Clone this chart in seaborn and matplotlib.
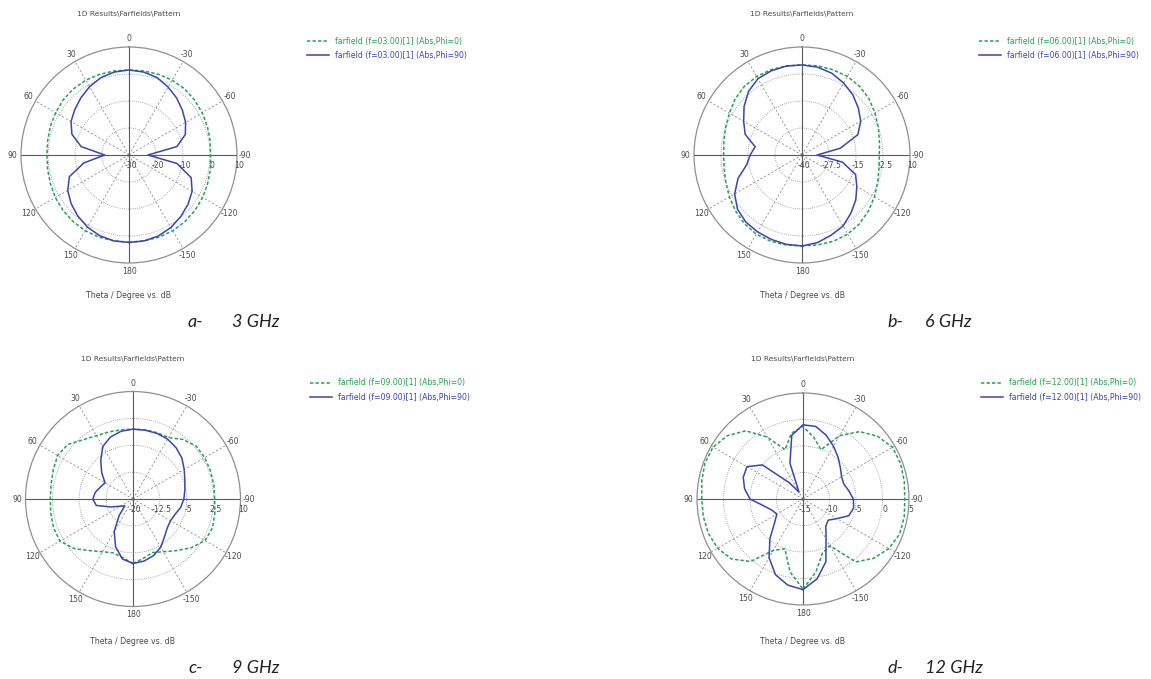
import numpy as np
import pandas as pd
import matplotlib
matplotlib.use("Agg")
import matplotlib.pyplot as plt
import seaborn as sns
from matplotlib.lines import Line2D

# theta in degrees, positive to the left (CCW from the top)
THETA_DEG = [-180, -170, -160, -150, -140, -130, -120, -110, -100, -90,
             -80, -70, -60, -50, -40, -30, -20, -10, 0,
             10, 20, 30, 40, 50, 60, 70, 80, 90,
             100, 110, 120, 130, 140, 150, 160, 170, 180]
ANGLE_TICKS = [0, 30, 60, 90, 120, 150, 180, 210, 240, 270, 300, 330]
ANGLE_LABELS = ['0', '30', '60', '90', '120', '150', '180',
                '-150', '-120', '-90', '-60', '-30']

# a - 3 GHz
A_RTICKS = [-30, -20, -10, 0, 10]
A_PHI0 = [2.3, 2.3, 2.4, 2.4, 2.2, 1.9, 1.5, 1.0, 0.6, 0.2,
          0.5, 0.9, 1.3, 1.7, 2.0, 2.0, 1.8, 1.6, 1.5,
          1.6, 1.8, 2.0, 2.0, 1.8, 1.4, 1.0, 0.6, 0.4,
          0.6, 1.0, 1.5, 1.9, 2.2, 2.4, 2.4, 2.3, 2.3]
A_PHI90 = [2.4, 2.3, 1.9, 1.0, -0.2, -1.5, -3.0, -5.5, -12, -23,
           -12, -7.8, -5.8, -4.2, -2.5, -1.0, 0.5, 1.2, 1.5,
           1.2, 0.5, -0.8, -2.3, -3.8, -5.2, -7.5, -12, -21,
           -13, -6.5, -3.8, -2.0, -0.5, 0.8, 1.8, 2.3, 2.4]

# b - 6 GHz
B_RTICKS = [-40, -27.5, -15, -2.5, 10]
B_PHI0 = [2.1, 2.3, 2.5, 2.3, 1.5, 0.2, -1.3, -2.7, -3.8, -4.2,
          -3.6, -2.4, -1.0, 0.5, 1.5, 2.0, 2.0, 1.9, 1.7,
          1.9, 2.0, 2.0, 1.5, 0.4, -1.2, -2.4, -3.3, -3.7,
          -3.4, -2.5, -1.2, 0.2, 1.5, 2.3, 2.5, 2.3, 2.1]
B_PHI90 = [2.1, 1.2, -0.5, -2.0, -4.8, -7.5, -10.7, -13.6, -21, -33,
           -22, -12.5, -8.6, -6.0, -3.5, -1.5, 0.3, 1.3, 1.7,
           1.8, 1.5, 0.8, -1.5, -5.0, -8.8, -12, -18, -16,
           -14, -8.5, -4.0, -1.0, 0.5, 1.1, 1.6, 2.0, 2.1]

# c - 9 GHz
C_RTICKS = [-20, -12.5, -5, 2.5, 10]
C_PHI0 = [-2.0, -3.2, -4.1, -3.0, -1.2, 1.2, 3.2, 3.6, 3.2, 2.8,
          2.9, 3.0, 3.1, 3.0, 1.7, -0.2, -0.3, -0.4, -0.5,
          -0.4, -0.1, 0.4, 1.6, 3.7, 4.3, 3.7, 3.2, 3.1,
          3.3, 3.6, 3.5, 1.5, -1.2, -3.0, -4.0, -3.4, -2.0]
C_PHI90 = [-2.0, -2.4, -3.2, -4.5, -6.3, -7.5, -7.9, -7.5, -6.5, -5.8,
           -5.3, -4.6, -3.5, -2.2, -1.3, -0.7, -0.5, -0.5, -0.5,
           -0.8, -1.6, -3.1, -6.0, -8.6, -11.0, -10.3, -9.3, -8.8,
           -9.6, -13.5, -16, -17, -14, -9.5, -5.8, -3.0, -2.0]

# d - 12 GHz
D_RTICKS = [-15, -10, -5, 0, 5]
D_PHI0 = [2.0, -1.0, -4.2, -4.8, 0.5, 2.4, 3.7, 4.4, 4.4, 4.2,
          4.4, 4.6, 4.5, 3.4, 1.6, -1.2, -5.1, -3.2, -1.3,
          -2.4, -5.1, -1.5, 1.8, 3.6, 4.6, 4.7, 4.4, 4.1,
          4.1, 4.0, 3.6, 2.6, 0.4, -3.8, -5.0, -1.0, 2.0]
D_PHI90 = [2.1, 0.3, -2.4, -6.3, -8.3, -8.8, -7.6, -5.8, -5.3, -5.5,
           -6.2, -6.8, -6.6, -5.8, -4.7, -3.5, -2.2, -1.1, -1.0,
           -2.8, -7.8, -13.5, -11, -5.0, -2.8, -3.0, -3.8, -5.0,
           -7.5, -8.8, -9.3, -8.0, -5.3, -2.2, 0.2, 1.5, 2.1]

FREQS = ['03.00', '06.00', '09.00', '12.00']
CAPTIONS = [('a-', '3 GHz'), ('b-', '6 GHz'), ('c-', '9 GHz'), ('d-', '12 GHz')]

GREEN = '#25a055'
BLUE = '#3a44b2'
TXT = '#4a4a4a'
DASH = (2.2, 1.4)

W, H = 1151, 679
fig = plt.figure(figsize=(W / 100, H / 100), dpi=100)


def draw_panel(cx, cy, R, rticks, phi0, phi90, freq, caption, leg_xy, cap_y, title_y, xlab_y):
    ax = fig.add_axes([(cx - R) / W, 1 - (cy + R) / H, 2 * R / W, 2 * R / H],
                      projection='polar')
    n = len(THETA_DEG)
    df = pd.DataFrame({
        'theta': np.deg2rad(THETA_DEG + THETA_DEG),
        'db': phi0 + phi90,
        'cut': ['Phi=0'] * n + ['Phi=90'] * n,
    })
    sns.lineplot(data=df, x='theta', y='db', hue='cut', style='cut',
                 palette={'Phi=0': GREEN, 'Phi=90': BLUE},
                 dashes={'Phi=0': DASH, 'Phi=90': ''},
                 sort=False, estimator=None, legend=False, linewidth=1.1,
                 ax=ax, zorder=4)
    ax.set_xlabel('')
    ax.set_ylabel('')
    ax.set_theta_zero_location('N')
    ax.set_theta_direction(1)
    ax.set_ylim(rticks[0], rticks[-1])
    ax.set_yticks(rticks[1:-1])
    ax.set_yticklabels([])
    ax.set_xticks(np.deg2rad(ANGLE_TICKS))
    ax.set_xticklabels(ANGLE_LABELS)
    ax.tick_params(axis='x', pad=-4.5, labelsize=5.6, labelcolor=TXT)
    ax.set_axisbelow(True)
    ax.xaxis.grid(True, color='#8a8a8a', lw=0.6, ls=(0, (2.5, 2.5)))
    ax.yaxis.grid(True, color='#8a8a8a', lw=0.6, ls=(0, (1, 1.6)))
    ax.spines['polar'].set_color('#8f8f8f')
    ax.spines['polar'].set_linewidth(0.9)
    for a in (0, 90, 180, 270):
        ax.axvline(np.deg2rad(a), color='#5a5a5a', lw=0.8, zorder=2)
    for v in rticks:
        ax.annotate(f'{v:g}', xy=(np.deg2rad(-90), v), xytext=(1.5, -7.5),
                    textcoords='offset points', ha='center', va='center',
                    fontsize=5.6, color=TXT, annotation_clip=False)

    fig.text(cx / W, 1 - title_y / H, '1D Results\\Farfields\\Pattern',
             ha='center', va='center', fontsize=5.4, color=TXT)
    fig.text(cx / W, 1 - xlab_y / H, 'Theta / Degree vs. dB',
             ha='center', va='center', fontsize=5.6, color=TXT)

    handles = [Line2D([], [], color=GREEN, lw=1.1, ls=(0, DASH)),
               Line2D([], [], color=BLUE, lw=1.1)]
    labels = [f'farfield (f={freq})[1] (Abs,Phi=0)',
              f'farfield (f={freq})[1] (Abs,Phi=90)']
    ax.legend(handles, labels, loc='center left',
              bbox_to_anchor=(leg_xy[0] / W, 1 - leg_xy[1] / H),
              bbox_transform=fig.transFigure, frameon=False, fontsize=5.6,
              handlelength=2.8, handletextpad=0.8, labelspacing=0.65,
              borderpad=0, borderaxespad=0, labelcolor='linecolor')

    cap_font = dict(fontsize=13, style='italic', family=['Lato', 'DejaVu Sans'],
                    color='#222222', va='center', ha='left')
    fig.text(caption[0][0] / W, 1 - cap_y / H, caption[1][0], **cap_font)
    fig.text(caption[0][1] / W, 1 - cap_y / H, caption[1][1], **cap_font)


draw_panel(129, 155, 108, A_RTICKS, A_PHI0, A_PHI90, FREQS[0],
           ((188, 232), CAPTIONS[0]), (307, 48.5), 322, 14, 296)
draw_panel(802, 155, 108, B_RTICKS, B_PHI0, B_PHI90, FREQS[1],
           ((887, 925), CAPTIONS[1]), (979, 48.5), 322, 14, 296)
draw_panel(133, 499, 107.5, C_RTICKS, C_PHI0, C_PHI90, FREQS[2],
           ((188, 232), CAPTIONS[2]), (310, 390), 668, 359, 642)
draw_panel(803, 499, 106, D_RTICKS, D_PHI0, D_PHI90, FREQS[3],
           ((887, 925), CAPTIONS[3]), (981, 390), 668, 359, 642)

fig.savefig('out.png', dpi=100)
